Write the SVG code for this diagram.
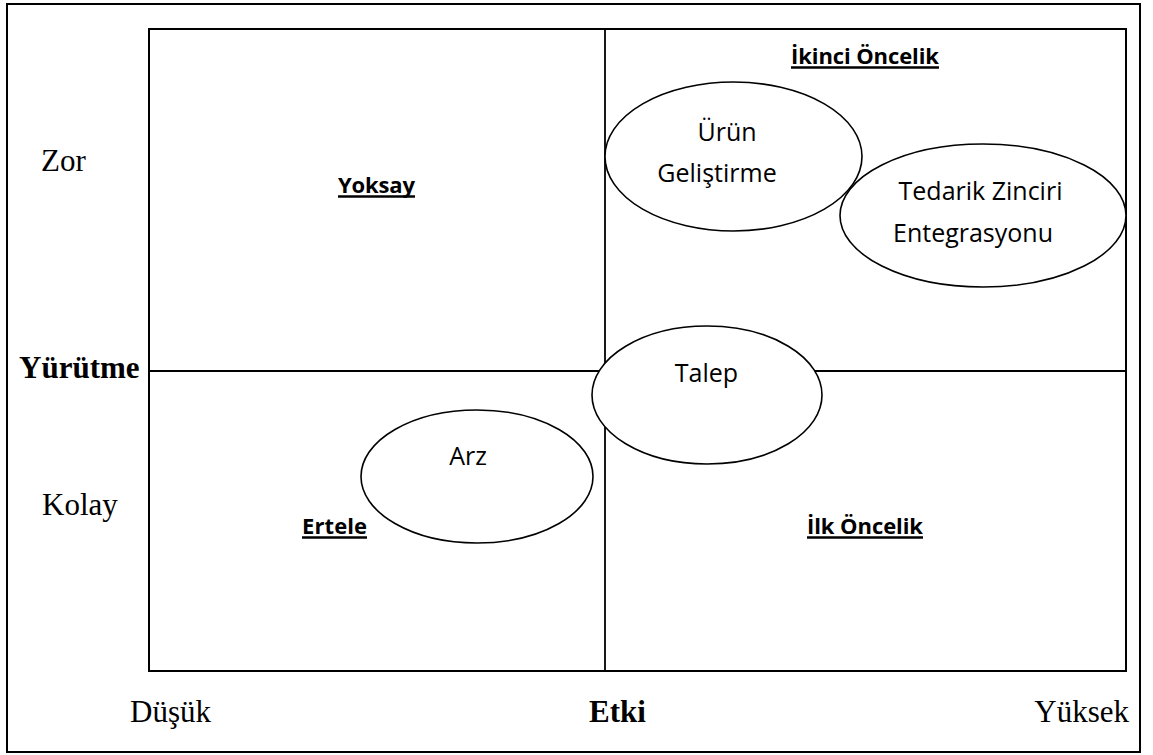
<svg xmlns="http://www.w3.org/2000/svg" width="1153" height="755" viewBox="0 0 1153 755">
  <style>
    .frame { fill: none; stroke: #000; stroke-width: 2; }
    .divider { stroke: #000; stroke-width: 1.8; }
    .bubble { fill: #fff; stroke: #000; stroke-width: 1.6; }
    .axis { font-family: "Liberation Serif", "Times New Roman", serif; font-size: 31px; fill: #000; }
    .axis-bold { font-weight: bold; }
    .item { font-family: "Open Sans", "Noto Sans", sans-serif; font-size: 25px; fill: #000; text-anchor: middle; }
    .zone { font-family: "Open Sans", "Noto Sans", sans-serif; font-size: 22px; font-weight: bold; fill: #000; }
    .uline { stroke: #000; stroke-width: 2.6; }
  </style>

  <rect width="1153" height="755" fill="#fff"/>

  <!-- outer frame and matrix grid -->
  <g id="frame">
    <rect class="frame" x="7" y="4" width="1133" height="748"/>
    <rect class="frame" x="149" y="29" width="977" height="642"/>
  </g>
  <g id="connectors">
    <line class="divider" x1="605" y1="29" x2="605" y2="671"/>
    <line class="divider" x1="149" y1="371" x2="1126" y2="371"/>
  </g>

  <!-- axis labels -->
  <g id="axis-labels">
    <text class="axis" x="41" y="171">Zor</text>
    <text class="axis axis-bold" x="19" y="378">Yürütme</text>
    <text class="axis" x="42" y="515">Kolay</text>
    <text class="axis" x="130" y="722">Düşük</text>
    <text class="axis axis-bold" x="589" y="722">Etki</text>
    <text class="axis" x="1129" y="722" text-anchor="end">Yüksek</text>
  </g>

  <!-- quadrant titles -->
  <g id="zone-yoksay">
    <text class="zone" x="338" y="193" textLength="77">Yoksay</text>
    <line class="uline" x1="338" y1="196.5" x2="415" y2="196.5"/>
  </g>
  <g id="zone-ikinci">
    <text class="zone" x="791" y="64" textLength="148">İkinci Öncelik</text>
    <line class="uline" x1="791" y1="67.5" x2="939" y2="67.5"/>
  </g>
  <g id="zone-ertele">
    <text class="zone" x="302" y="534" textLength="65">Ertele</text>
    <line class="uline" x1="302" y1="537.5" x2="367" y2="537.5"/>
  </g>
  <g id="zone-ilk">
    <text class="zone" x="807" y="534" textLength="116">İlk Öncelik</text>
    <line class="uline" x1="807" y1="537.5" x2="923" y2="537.5"/>
  </g>

  <!-- items -->
  <g id="node-urun">
    <ellipse class="bubble" cx="733.5" cy="156.5" rx="128.5" ry="74.5"/>
    <text class="item" x="727" y="141">Ürün</text>
    <text class="item" x="717" y="182">Geliştirme</text>
  </g>
  <g id="node-tedarik">
    <ellipse class="bubble" cx="983" cy="215.5" rx="143" ry="71.5"/>
    <text class="item" x="980.5" y="200">Tedarik Zinciri</text>
    <text class="item" x="973" y="242">Entegrasyonu</text>
  </g>
  <g id="node-talep">
    <ellipse class="bubble" cx="707" cy="395" rx="115" ry="69"/>
    <text class="item" x="706.5" y="382">Talep</text>
  </g>
  <g id="node-arz">
    <ellipse class="bubble" cx="477" cy="476.5" rx="116" ry="66.5"/>
    <text class="item" x="468" y="465">Arz</text>
  </g>
</svg>
